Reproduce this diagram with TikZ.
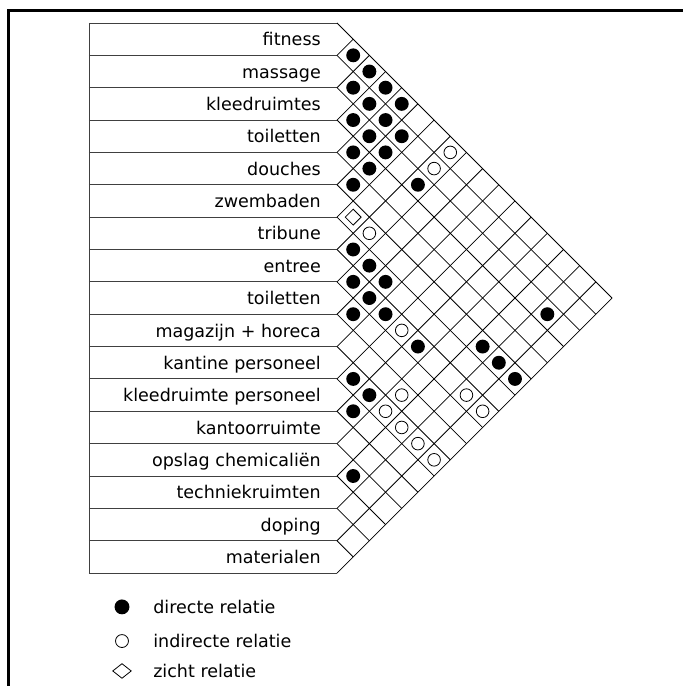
\documentclass[tikz,border=0pt]{standalone}
\usepackage{fontspec}
\setmainfont{DejaVu Sans}
\usetikzlibrary{shapes.geometric}

\begin{document}
\begin{tikzpicture}[x=0.5cm, y=0.5cm,
        every node/.append style={font=\fontsize{15.4}{18}\selectfont},
        lbl/.style={anchor=base east, inner sep=0pt},
        keytxt/.style={anchor=base west, inner sep=0pt},
        boxline/.style={line width=0.8pt, black!75},
        gridline/.style={line width=0.7pt, black},
        direct/.style={circle, fill=black, inner sep=0pt, minimum size=0.43cm},
        indirect/.style={circle, draw, line width=0.7pt, inner sep=0pt, minimum size=0.39cm},
        zicht/.style={diamond, draw, line width=0.7pt, inner sep=0pt,
          minimum width=0.5cm, minimum height=0.5cm}
      ]
        \useasboundingbox (-20.83,1.42) rectangle (21.38,-40.98);
        % Frame
        \draw[line width=2.6pt] (-20.30,-42) -- (-20.30,0.77) -- (22,0.77);
        % Label boxes
        \foreach \k in {0,...,17}
          \draw[boxline] (-15.33,-2*\k) -- (0,-2*\k);
        \draw[boxline] (-15.33,0) -- (-15.33,-34);
        \foreach \name [count=\r] in {fitness, massage, kleedruimtes, toiletten,
            douches, zwembaden, tribune, entree, toiletten, magazijn + horeca,
            kantine personeel, kleedruimte personeel, kantoorruimte,
            opslag chemicaliën, techniekruimten, doping, materialen}
          \node[lbl] (lab\r) at (-0.99,-2*\r+0.59) {\name};
        % Diagonal grid
        \foreach \k in {0,...,16}
          \draw[gridline] (0,-2*\k) -- ++(17-\k,\k-17);
        \foreach \k in {1,...,17}
          \draw[gridline] (0,-2*\k) -- ++(\k,\k);
        % Relations, cell i/j sits at (j-i, -(i+j-1))
        \foreach \i/\j in {1/2,1/3,2/3,1/4,2/4,1/5,3/4,2/5,3/5,2/6,4/5,3/6,4/6,5/6,
            3/8,7/8,7/9,8/9,7/10,8/10,9/10,8/11,3/16,8/13,6/15,6/16,11/12,6/17,
            11/13,12/13,14/15}
          \node[direct] (rel-\i-\j) at ({\j-\i},{-(\i+\j-1)}) {};
        \foreach \i/\j in {1/8,2/8,6/8,8/12,10/14,8/16,11/14,8/17,11/15,11/16,11/17}
          \node[indirect] (rel-\i-\j) at ({\j-\i},{-(\i+\j-1)}) {};
        \node[zicht] (rel-6-7) at (1,-12) {};
        % Legend
        \node[direct, minimum size=0.46cm] (keyD) at (-13.29,-36.09) {};
        \node[keytxt] (keyDtxt) at (-11.37,-36.48) {directe relatie};
        \node[indirect, minimum size=0.4cm] (keyI) at (-13.29,-38.20) {};
        \node[keytxt] (keyItxt) at (-11.37,-38.59) {indirecte relatie};
        \node[zicht, minimum width=0.58cm, minimum height=0.46cm] (keyZ) at (-13.29,-40.05) {};
        \node[keytxt] (keyZtxt) at (-11.37,-40.44) {zicht relatie};
      \end{tikzpicture}
\end{document}
